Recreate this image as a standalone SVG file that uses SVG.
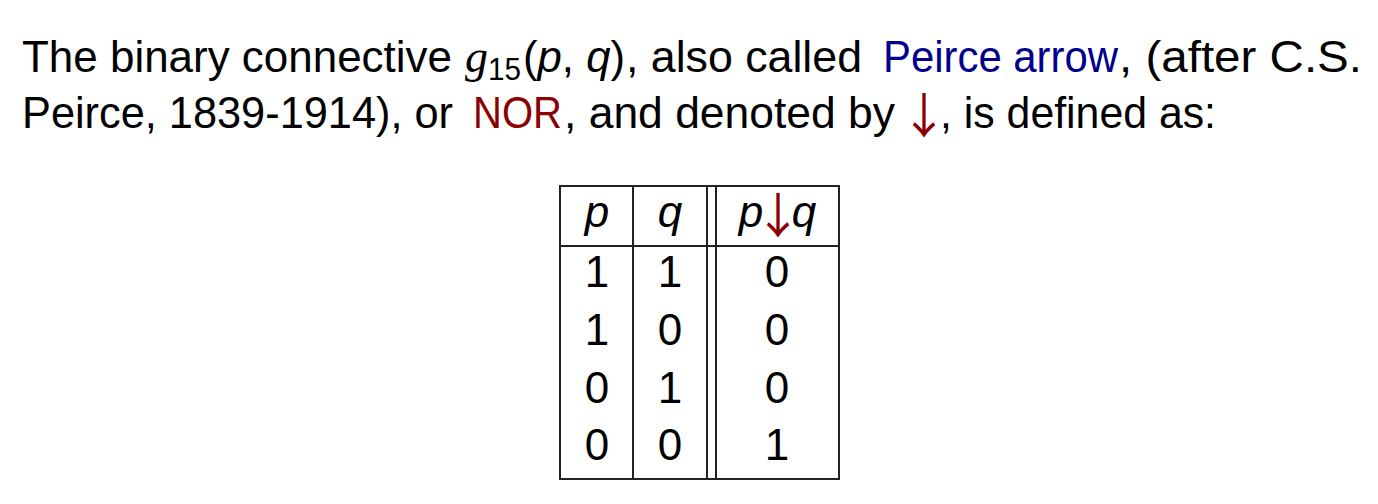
<svg xmlns="http://www.w3.org/2000/svg" width="1378" height="504" viewBox="0 0 1378 504">
<style>
.t{font-family:"Liberation Sans","DejaVu Sans",sans-serif;font-size:45px;fill:#000}
.i{font-style:italic}
.blue{fill:#00008b}
.red{fill:#8b0000}
.ar{font-family:"Noto Sans CJK SC","DejaVu Sans",sans-serif;fill:#8b0000;font-size:48px;text-anchor:middle}
.c{font-family:"Liberation Sans","DejaVu Sans",sans-serif;font-size:44px;fill:#000;text-anchor:middle}
.ln{stroke:#222;stroke-width:2;fill:none}
</style>
<rect width="1378" height="504" fill="#fff"/>
<g id="paragraph">
<text class="t" x="22" y="72" textLength="430" lengthAdjust="spacingAndGlyphs">The binary connective</text>
<text x="465" y="72" style="font-family:'Liberation Serif',serif;font-style:italic;font-size:46px">g</text>
<text class="t" x="488" y="80" style="font-size:31px" textLength="33" lengthAdjust="spacingAndGlyphs">15</text>
<text class="t" x="523" y="72" textLength="102" lengthAdjust="spacingAndGlyphs">(<tspan class="i">p</tspan>, <tspan class="i">q</tspan>)</text>
<text class="t" x="626" y="72" textLength="236" lengthAdjust="spacingAndGlyphs">, also called</text>
<text class="t blue" x="883" y="72" textLength="235" lengthAdjust="spacingAndGlyphs">Peirce arrow</text>
<text class="t" x="1119" y="72" textLength="243" lengthAdjust="spacingAndGlyphs">, (after C.S.</text>
<text class="t" x="22" y="128" textLength="431" lengthAdjust="spacingAndGlyphs">Peirce, 1839-1914), or</text>
<text class="t red" x="473" y="128" textLength="89" lengthAdjust="spacingAndGlyphs">NOR</text>
<text class="t" x="564" y="128" textLength="331" lengthAdjust="spacingAndGlyphs">, and denoted by</text>
<text class="ar" x="924" y="133">↓</text>
<text class="t" x="940" y="128" textLength="276" lengthAdjust="spacingAndGlyphs">, is defined as:</text>
</g>
<g id="table">
<g id="grid">
<line class="ln" x1="559" y1="186" x2="840" y2="186"/>
<line class="ln" x1="559" y1="246" x2="840" y2="246"/>
<line class="ln" x1="559" y1="479" x2="840" y2="479"/>
<line class="ln" x1="560" y1="185" x2="560" y2="480"/>
<line class="ln" x1="633" y1="185" x2="633" y2="480"/>
<line class="ln" x1="707" y1="185" x2="707" y2="480"/>
<line class="ln" x1="716" y1="185" x2="716" y2="480"/>
<line class="ln" x1="839" y1="185" x2="839" y2="480"/>
</g>
<g id="header">
<text class="c i" x="597" y="227">p</text>
<text class="c i" x="670" y="227">q</text>
<text class="c i" x="751" y="227">p</text>
<text class="ar" x="778" y="233">↓</text>
<text class="c i" x="804" y="227">q</text>
</g>
<g id="rows">
<text class="c" x="597" y="287">1</text><text class="c" x="670" y="287">1</text><text class="c" x="777" y="287">0</text>
<text class="c" x="597" y="345">1</text><text class="c" x="670" y="345">0</text><text class="c" x="777" y="345">0</text>
<text class="c" x="597" y="403">0</text><text class="c" x="670" y="403">1</text><text class="c" x="777" y="403">0</text>
<text class="c" x="597" y="460">0</text><text class="c" x="670" y="460">0</text><text class="c" x="777" y="460">1</text>
</g>
</g>
</svg>
